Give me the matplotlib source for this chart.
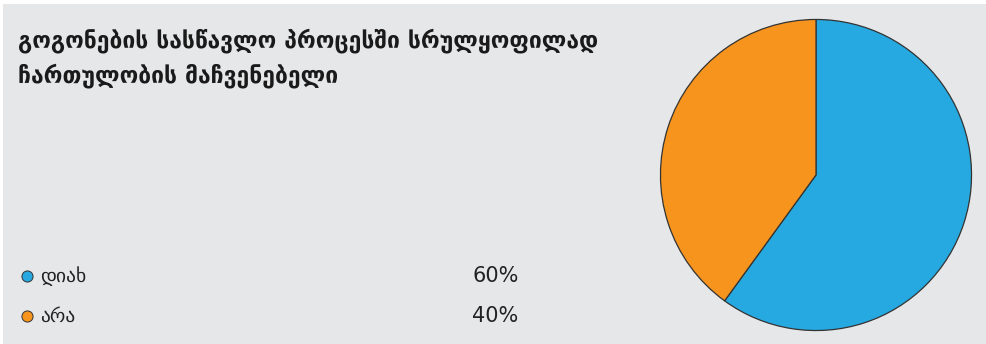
import matplotlib
matplotlib.use("Agg")
import matplotlib.pyplot as plt

title_lines = ["გოგონების სასწავლო პროცესში სრულყოფილად", "ჩართულობის მაჩვენებელი"]
labels = ["დიახ", "არა"]
values = [60, 40]
colors = ["#25a9e0", "#f7941d"]
bg = "#e6e7e9"

fig = plt.figure(figsize=(9.86, 3.44), dpi=100)
fig.patch.set_facecolor("white")
W, H = 986, 344

# gray panel
panel = fig.add_axes([3 / W, 0, 1 - 3 / W, 1 - 4 / H])
panel.set_facecolor(bg)
panel.set_xticks([])
panel.set_yticks([])
for s in panel.spines.values():
    s.set_visible(False)

for i, line in enumerate(title_lines):
    fig.text(18 / W, 1 - (47 + 35 * i) / H, line, fontsize=16.5, fontweight="bold",
             family="DejaVu Sans", va="baseline", ha="left", color="#1a1a1a")

# legend rows
for i, (lab, v, c) in enumerate(zip(labels, values, colors)):
    y = 1 - (276 + 40 * i) / H
    panel.plot([27 / W], [y], "o", transform=fig.transFigure, ms=8,
               mfc=c, mec="#333333", mew=0.7, clip_on=False)
    fig.text(40 / W, y, lab, fontsize=14, ha="left", va="center", color="#222")
    fig.text(472 / W, y, f"{v}%", fontsize=15, ha="left", va="center", color="#222")

# pie
cx, cy, r = 816, 175, 156
ax = fig.add_axes([(cx - r) / W, 1 - (cy + r) / H, 2 * r / W, 2 * r / H])
ax.pie(values, colors=colors, startangle=90, counterclock=False,
       wedgeprops=dict(edgecolor="#333333", linewidth=0.9))
ax.set_xlim(-1.003, 1.003)
ax.set_ylim(-1.003, 1.003)
ax.set_aspect("equal")
ax.axis("off")

fig.savefig("out.png", dpi=100, facecolor=fig.get_facecolor())
